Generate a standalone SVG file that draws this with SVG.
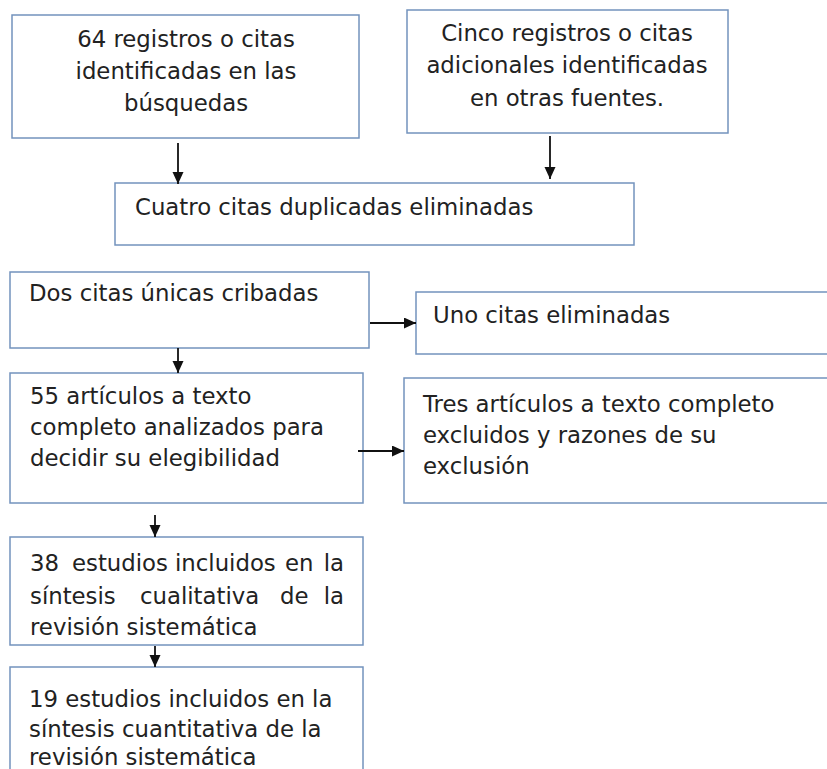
<svg xmlns="http://www.w3.org/2000/svg" width="827" height="769" viewBox="0 0 827 769">
<defs>
<marker id="ah" markerWidth="13" markerHeight="12" refX="12" refY="5.5" orient="auto" markerUnits="userSpaceOnUse">
<path d="M0,0 L12,5.5 L0,11 Z" fill="#111"/>
</marker>
<style>
.box{fill:#fff;stroke:#7393bd;stroke-width:1.5}
.t{font-family:"DejaVu Sans","Verdana",sans-serif;font-size:22.8px;fill:#222}
.c{text-anchor:middle}
.a{stroke:#111;stroke-width:1.8;fill:none;marker-end:url(#ah)}
</style>
</defs>
<rect width="827" height="769" fill="#fff"/>
<g id="n1">
<rect class="box" x="12" y="15" width="347" height="123"/>
<text class="t c" x="186" y="47">64 registros o citas</text>
<text class="t c" x="186" y="79">identificadas en las</text>
<text class="t c" x="186" y="111">búsquedas</text>
</g>
<g id="n2">
<rect class="box" x="407" y="10" width="321" height="123"/>
<text class="t c" x="567" y="41">Cinco registros o citas</text>
<text class="t c" x="567" y="73">adicionales identificadas</text>
<text class="t c" x="567" y="106">en otras fuentes.</text>
</g>
<g id="n3">
<rect class="box" x="115" y="183" width="519" height="62"/>
<text class="t" x="135" y="215">Cuatro citas duplicadas eliminadas</text>
</g>
<g id="n4">
<rect class="box" x="10" y="272" width="359" height="76"/>
<text class="t" x="29" y="301">Dos citas únicas cribadas</text>
</g>
<g id="n5">
<rect class="box" x="416" y="292" width="420" height="62"/>
<text class="t" x="433" y="323">Uno citas eliminadas</text>
</g>
<g id="n6">
<rect class="box" x="10" y="373" width="353" height="130"/>
<text class="t" x="30" y="404">55 artículos a texto</text>
<text class="t" x="30" y="435">completo analizados para</text>
<text class="t" x="30" y="466">decidir su elegibilidad</text>
</g>
<g id="n7">
<rect class="box" x="404" y="378" width="432" height="125"/>
<text class="t" x="423" y="412">Tres artículos a texto completo</text>
<text class="t" x="423" y="443">excluidos y razones de su</text>
<text class="t" x="423" y="474">exclusión</text>
</g>
<g id="n8">
<rect class="box" x="10" y="537" width="353" height="108"/>
<text class="t"><tspan x="30" y="571">38</tspan><tspan x="72" y="571">estudios</tspan><tspan x="175" y="571">incluidos</tspan><tspan x="285" y="571">en</tspan><tspan x="344" y="571" text-anchor="end">la</tspan></text>
<text class="t"><tspan x="30" y="604">síntesis</tspan><tspan x="140" y="604">cualitativa</tspan><tspan x="280" y="604">de</tspan><tspan x="344" y="604" text-anchor="end">la</tspan></text>
<text class="t" x="30" y="635">revisión sistemática</text>
</g>
<g id="n9">
<rect class="box" x="10" y="667" width="353" height="110"/>
<text class="t" x="29" y="707">19 estudios incluidos en la</text>
<text class="t" x="29" y="737">síntesis cuantitativa de la</text>
<text class="t" x="29" y="765">revisión sistemática</text>
</g>
<g id="connectors">
<line class="a" x1="178" y1="143" x2="178" y2="184"/>
<line class="a" x1="550" y1="136" x2="550" y2="179"/>
<line class="a" x1="178" y1="348" x2="178" y2="373"/>
<line class="a" x1="370" y1="323" x2="416" y2="323"/>
<line class="a" x1="358" y1="451" x2="404" y2="451"/>
<line class="a" x1="155" y1="515" x2="155" y2="537"/>
<line class="a" x1="155" y1="646" x2="155" y2="667"/>
</g>
</svg>
